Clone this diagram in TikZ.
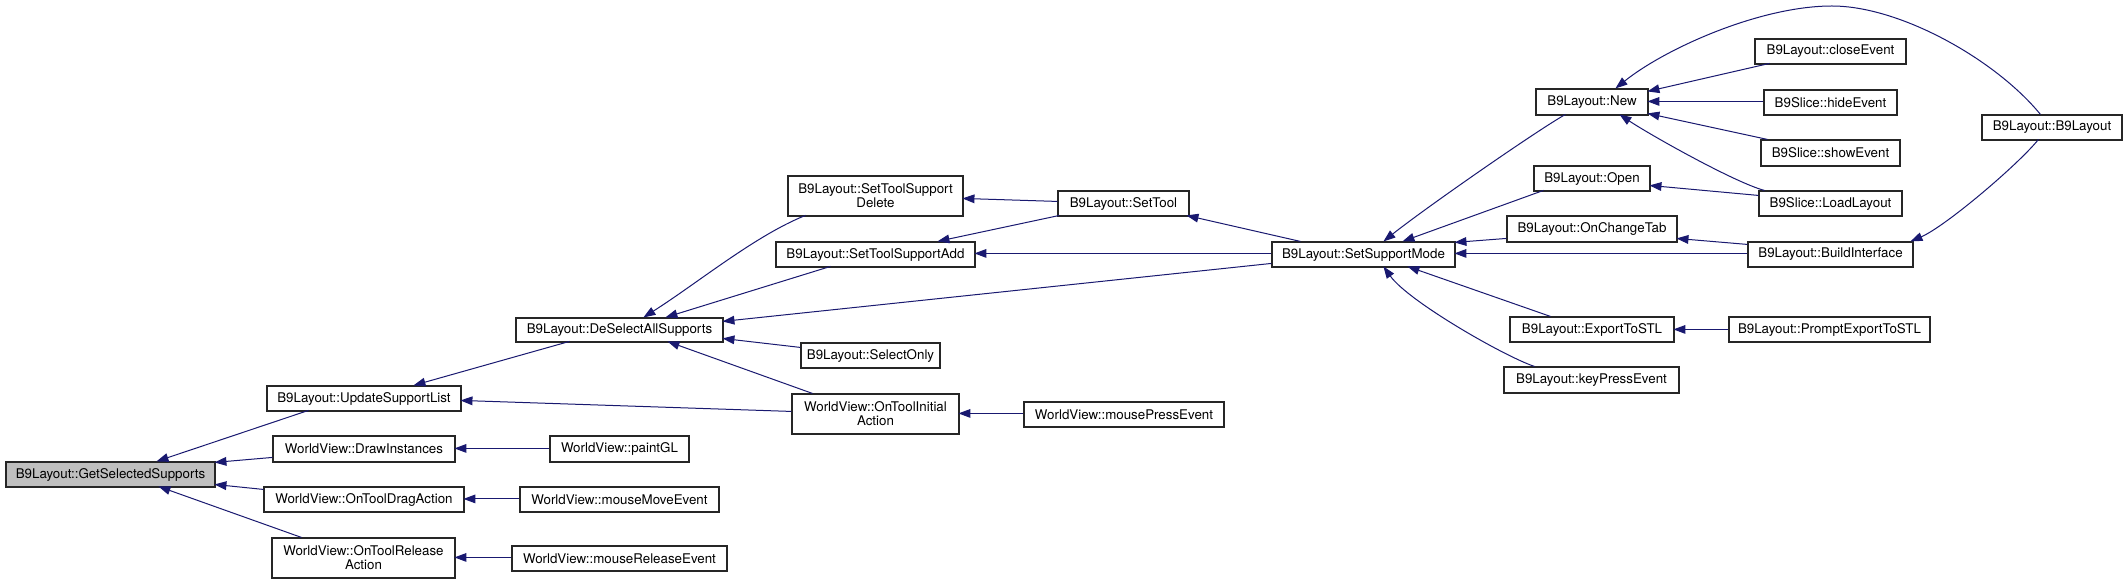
\documentclass[tikz,border=0pt]{standalone}
\usepackage{fontspec}
\setmainfont{TeX Gyre Heros}
\usetikzlibrary{arrows.meta,calc}
\definecolor{edgec}{HTML}{191970}
\definecolor{selfill}{HTML}{BFBFBF}
\newcommand\bx[7][]{\node[box,#1,minimum width={(#5-#3)*0.75pt},minimum height={(#6-#4)*0.75pt}] (#2) at ({(#3+#5)/2},{(#4+#6)/2}) {#7};}
\newcommand\pp[3]{($(#1.north west)+(#2,#3)$)}
\begin{document}
\begin{tikzpicture}[x=0.75pt,y=-0.75pt,
  box/.style={draw=black!85,line width=0.85pt,fill=white,inner sep=0pt,align=center,font=\fontsize{10}{10.5}\selectfont},
  edge/.style={draw=edgec,line width=0.75pt,-{Triangle[length=9pt,width=6.5pt]}}]
\fill[white] (0,0) rectangle (2128,584);
\useasboundingbox (0,0) rectangle (2128,584);
% nodes
\bx[fill=selfill]{gss}{6}{462}{215}{487}{B9Layout::GetSelectedSupports}
\bx{usl}{267}{386}{461}{411}{B9Layout::UpdateSupportList}
\bx{dri}{273}{436}{455}{462}{WorldView::DrawInstances}
\bx{oda}{264}{487}{464}{512}{WorldView::OnToolDragAction}
\bx{ora}{272}{538}{455}{578}{WorldView::OnToolRelease\\Action}
\bx{dsa}{516}{318}{723}{342}{B9Layout::DeSelectAllSupports}
\bx{tsd}{788}{176}{963}{216}{B9Layout::SetToolSupport\\Delete}
\bx{tsa}{776}{242}{975}{267}{B9Layout::SetToolSupportAdd}
\bx{sel}{801}{343}{940}{368}{B9Layout::SelectOnly}
\bx{oia}{792}{394}{959}{434}{WorldView::OnToolInitial\\Action}
\bx{pgl}{550}{436}{689}{462}{WorldView::paintGL}
\bx{mme}{520}{487}{719}{512}{WorldView::mouseMoveEvent}
\bx{mre}{512}{546}{727}{571}{WorldView::mouseReleaseEvent}
\bx{mpe}{1024}{402}{1224}{427}{WorldView::mousePressEvent}
\bx{stl}{1058}{191}{1189}{216}{B9Layout::SetTool}
\bx{ssm}{1272}{242}{1455}{267}{B9Layout::SetSupportMode}
\bx{new}{1536}{89}{1648}{115}{B9Layout::New}
\bx{opn}{1534}{166}{1650}{191}{B9Layout::Open}
\bx{oct}{1507}{216}{1677}{242}{B9Layout::OnChangeTab}
\bx{ets}{1510}{317}{1674}{342}{B9Layout::ExportToSTL}
\bx{kpe}{1504}{367}{1679}{393}{B9Layout::keyPressEvent}
\bx{cle}{1755}{39}{1906}{64}{B9Layout::closeEvent}
\bx{hde}{1764}{90}{1897}{115}{B9Slice::hideEvent}
\bx{she}{1761}{140}{1900}{166}{B9Slice::showEvent}
\bx{lol}{1759}{191}{1902}{216}{B9Slice::LoadLayout}
\bx{bui}{1748}{242}{1913}{267}{B9Layout::BuildInterface}
\bx{b9l}{1982}{115}{2122}{140}{B9Layout::B9Layout}
\bx{pex}{1729}{317}{1930}{342}{B9Layout::PromptExportToSTL}
% edges (caller -> callee)
\draw[edge] \pp{usl}{42}{25} -- \pp{gss}{151}{0};
\draw[edge] \pp{dri}{0}{22} -- \pp{gss}{209}{1};
\draw[edge] \pp{oda}{0}{3} -- \pp{gss}{209}{23};
\draw[edge] \pp{ora}{30}{0} -- \pp{gss}{153}{25};
\draw[edge] \pp{dsa}{54}{24} -- \pp{usl}{147}{0};
\draw[edge] \pp{oia}{0}{18} -- \pp{usl}{194}{15};
\draw[edge] \pp{tsd}{18}{40} .. controls +(-50,20) and +(55,-35) .. \pp{dsa}{128}{0};
\draw[edge] \pp{tsa}{55}{25} -- \pp{dsa}{150}{0};
\draw[edge] \pp{ssm}{0}{22} -- \pp{dsa}{207}{4};
\draw[edge] \pp{sel}{0}{5} -- \pp{dsa}{207}{21};
\draw[edge] \pp{oia}{21}{0} -- \pp{dsa}{152}{24};
\draw[edge] \pp{stl}{0}{11} -- \pp{tsd}{175}{23};
\draw[edge] \pp{stl}{2}{25} -- \pp{tsa}{162}{0};
\draw[edge] \pp{ssm}{0}{12} -- \pp{tsa}{199}{12};
\draw[edge] \pp{ssm}{29}{0} -- \pp{stl}{129}{25};
\draw[edge] \pp{mpe}{0}{12} -- \pp{oia}{167}{20};
\draw[edge] \pp{pgl}{0}{13} -- \pp{dri}{182}{13};
\draw[edge] \pp{mme}{0}{12.5} -- \pp{oda}{200}{12.5};
\draw[edge] \pp{mre}{0}{12} -- \pp{ora}{183}{20};
\draw[edge] \pp{new}{30}{26} .. controls +(-30,17) and +(40,-32) .. \pp{ssm}{112}{0};
\draw[edge] \pp{opn}{10}{25} -- \pp{ssm}{131}{0};
\draw[edge] \pp{oct}{0}{23} -- \pp{ssm}{183}{1};
\draw[edge] \pp{bui}{0}{12} -- \pp{ssm}{183}{12};
\draw[edge] \pp{ets}{41}{0} -- \pp{ssm}{136}{25};
\draw[edge] \pp{kpe}{31}{0} .. controls +(-30,-10) and +(25,35) .. \pp{ssm}{112}{25};
\draw[edge] \pp{cle}{15}{25} -- \pp{new}{112}{3};
\draw[edge] \pp{hde}{0}{12} -- \pp{new}{112}{13};
\draw[edge] \pp{she}{7}{0} -- \pp{new}{112}{25};
\draw[edge] \pp{lol}{6}{0} .. controls +(-30,-8) and +(30,20) .. \pp{new}{84}{26};
\draw[edge] \pp{lol}{0}{5} -- \pp{opn}{116}{20};
\draw[edge] \pp{b9l}{59}{0} .. controls +(-45,-55) and (1900,6) .. (1832,6) .. controls (1760,6) and +(50,-40) .. \pp{new}{80}{0};
\draw[edge] \pp{bui}{0}{3} -- \pp{oct}{170}{23};
\draw[edge] \pp{b9l}{57}{25} .. controls +(-20,25) and +(35,-15) .. \pp{bui}{163}{0};
\draw[edge] \pp{pex}{0}{13} -- \pp{ets}{164}{13};
\end{tikzpicture}
\end{document}
